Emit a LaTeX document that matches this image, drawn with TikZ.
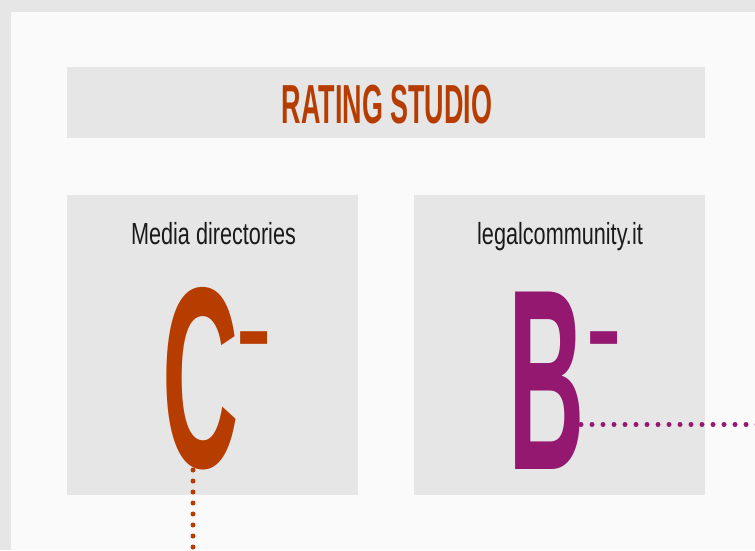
\documentclass[tikz,border=0pt]{standalone}
\usepackage{fontspec}
\setmainfont{Liberation Sans}
\newfontfamily\labelfont[FakeStretch=0.71]{Liberation Sans}
\newfontfamily\titlefont[FakeStretch=0.49]{Liberation Sans Bold}
\newfontfamily\gradefont[FakeStretch=0.41]{Liberation Sans Bold}
\newfontfamily\minusfont{Liberation Sans Bold}
\begin{document}
\begin{tikzpicture}[x=1pt, y=-1pt]
    \definecolor{rs-orange}{RGB}{183,60,0}
    \definecolor{rs-purple}{RGB}{148,23,112}
    \definecolor{rs-box}{RGB}{230,230,230}
    \definecolor{rs-panel}{RGB}{250,250,250}
    \definecolor{rs-text}{RGB}{26,26,26}
    \tikzset{
      grade/.style={inner sep=0pt, anchor=base, font=\gradefont\fontsize{258}{258}\selectfont},
      minus/.style={inner sep=0pt, anchor=base west, font=\minusfont\fontsize{106}{106}\selectfont},
      boxlabel/.style={inner sep=0pt, anchor=base, text=rs-text, font=\labelfont\fontsize{30.5}{32}\selectfont},
      dotline/.style={line width=5pt, line cap=round, dash pattern=on 0pt off 11pt}
    }
    \useasboundingbox (0,0) rectangle (755,550);
    \fill[rs-box] (0,0) rectangle (755,550);
    \fill[rs-panel] (11,12) rectangle (755,550);
    \fill[rs-box] (67,67) rectangle (705,138);
    \fill[rs-box] (67,195) rectangle (358,495);
    \fill[rs-box] (414,195) rectangle (705,495);
    \node[inner sep=0pt, anchor=base, text=rs-orange, font=\titlefont\fontsize{55}{56}\selectfont] (title) at (387,123) {RATING STUDIO};
    \node[boxlabel] (labMedia) at (213.5,244) {Media directories};
    \node[boxlabel] (labLegal) at (560,244) {legalcommunity.it};
    \node[grade, text=rs-orange] (gradeC) at (200.5,467) {C};
    \node[minus, text=rs-orange] (minusC) at (236,365) {-};
    \node[grade, text=rs-purple] (gradeB) at (547,469) {B};
    \node[minus, text=rs-purple] (minusB) at (586,365) {-};
    \coordinate (endC) at (193,552);
    \coordinate (endB) at (757,424.5);
    \draw[dotline, rs-orange] (gradeC.base -| endC) ++(0,3) -- (endC);
    \draw[dotline, rs-purple] (endB) -- ([xshift=-9pt]gradeB.east |- endB);
  \end{tikzpicture}
\end{document}
